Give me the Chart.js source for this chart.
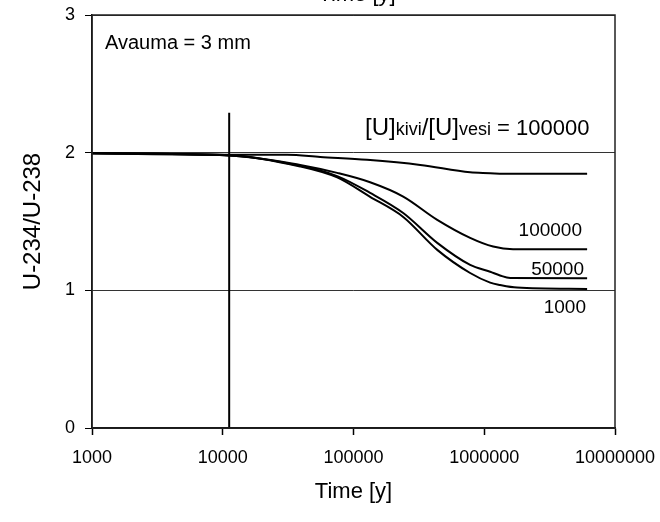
<!DOCTYPE html>
<html>
<head>
<meta charset="utf-8">
<script src="https://cdn.jsdelivr.net/npm/chart.js@4.4.0/dist/chart.umd.min.js"></script>
<style>
  html, body { margin: 0; padding: 0; background: #fff; }
  #c { display: block; }
</style>
</head>
<body>
<canvas id="c" width="660" height="522"></canvas>
<script>
// ── 数据 ──
var xTicks = [1000, 10000, 100000, 1000000, 10000000];
var yTicks = [0, 1, 2, 3];

// 上方曲线
var timeTop  = [1000, 11200, 31100, 55600, 127000, 324000, 780000, 1110000, 1390000, 6120000];
var ratioTop = [1.995, 1.985, 1.985, 1.969, 1.948, 1.911, 1.857, 1.851, 1.846, 1.846];

// 100000
var time100k  = [1000, 11200, 39100, 75000, 134000, 240000, 437000, 780000, 1170000, 1660000, 6120000];
var ratio100k = [1.995, 1.982, 1.911, 1.853, 1.785, 1.681, 1.512, 1.381, 1.318, 1.299, 1.299];

// 50000
var time50k  = [1000, 11200, 39100, 75000, 134000, 240000, 437000, 780000, 1110000, 1320000, 1580000, 6120000];
var ratio50k = [1.995, 1.980, 1.905, 1.830, 1.708, 1.562, 1.345, 1.185, 1.135, 1.108, 1.090, 1.088];

// 1000
var time1k  = [1000, 11200, 39100, 75000, 134000, 240000, 437000, 780000, 1110000, 1320000, 1780000, 6120000];
var ratio1k = [1.995, 1.980, 1.900, 1.820, 1.679, 1.533, 1.294, 1.126, 1.056, 1.039, 1.020, 1.010];

// 垂直线
var markTime  = [11200, 11200];
var markRatio = [0, 2.29];

function pts(xs, ys) {
  return xs.map(function (x, i) { return { x: x, y: ys[i] }; });
}

function line(data, smooth) {
  return {
    data: data,
    borderColor: "#000",
    borderWidth: 2,
    pointRadius: 0,
    cubicInterpolationMode: smooth ? "monotone" : "default",
    tension: 0,
    fill: false
  };
}

var FONT = "'Liberation Sans', Arial, sans-serif";

/* ── 边框 + 文字 ── */
var framePlugin = {
  id: "frame",
  afterDraw: function (chart) {
    var ctx = chart.ctx, a = chart.chartArea;
    ctx.save();
    ctx.strokeStyle = "#222";
    ctx.lineWidth = 1.5;
    ctx.strokeRect(a.left, a.top, a.right - a.left, a.bottom - a.top);

    ctx.fillStyle = "#000";
    ctx.textBaseline = "alphabetic";

    // 顶部被截掉的标题
    ctx.textAlign = "center";
    ctx.font = "22px " + FONT;
    ctx.fillText("Time [y]", 357, 1);

    ctx.textAlign = "left";
    ctx.font = "20px " + FONT;
    ctx.fillText("Avauma = 3 mm", 105, 49);

    // [U]kivi/[U]vesi = 100000
    var parts = [["[U]", 24], ["kivi", 18], ["/[U]", 24], ["vesi", 18], [" = 100000", 22]];
    var x = 365;
    parts.forEach(function (p) {
      ctx.font = p[1] + "px " + FONT;
      ctx.fillText(p[0], x, 135);
      x += ctx.measureText(p[0]).width;
    });

    ctx.textAlign = "right";
    ctx.font = "19px " + FONT;
    ctx.fillText("100000", 582, 236);
    ctx.fillText("50000", 584, 275);
    ctx.fillText("1000", 586, 313);
    ctx.restore();
  }
};

new Chart(document.getElementById("c"), {
  type: "line",
  data: {
    datasets: [
      line(pts(timeTop, ratioTop), true),
      line(pts(time100k, ratio100k), true),
      line(pts(time50k, ratio50k), true),
      line(pts(time1k, ratio1k), true),
      line(pts(markTime, markRatio), false)
    ]
  },
  options: {
    responsive: false,
    animation: false,
    events: [],
    layout: { padding: { left: 0, right: 45, top: 15, bottom: 0 } },
    plugins: { legend: { display: false }, tooltip: { enabled: false } },
    scales: {
      x: {
        type: "logarithmic",
        min: 1000,
        max: 10000000,
        afterBuildTicks: function (s) { s.ticks = xTicks.map(function (v) { return { value: v }; }); },
        afterFit: function (s) { s.height = 94; s.paddingLeft = 0; s.paddingRight = 0; },
        ticks: {
          autoSkip: false,
          maxRotation: 0,
          color: "#000",
          padding: 12,
          font: { family: FONT, size: 18 },
          callback: function (v) { return String(v); }
        },
        grid: { drawOnChartArea: false, drawTicks: true, tickLength: 7, tickColor: "#000", tickWidth: 1.5 },
        border: { display: true, color: "#000", width: 1.5 },
        title: { display: true, text: "Time [y]", color: "#000", font: { family: FONT, size: 22 }, padding: { bottom: 17 } }
      },
      y: {
        min: 0,
        max: 3,
        afterBuildTicks: function (s) { s.ticks = yTicks.map(function (v) { return { value: v }; }); },
        afterFit: function (s) { s.width = 92; s.paddingTop = 0; s.paddingBottom = 0; },
        ticks: {
          color: "#000",
          padding: 10,
          font: { family: FONT, size: 18 }
        },
        grid: { color: "#333", lineWidth: 1, drawTicks: true, tickLength: 7, tickColor: "#000" },
        border: { display: true, color: "#000", width: 1.5 },
        title: { display: true, text: "U-234/U-238", color: "#000", font: { family: FONT, size: 24 }, padding: { top: 19 } }
      }
    }
  },
  plugins: [framePlugin]
});
</script>
</body>
</html>
